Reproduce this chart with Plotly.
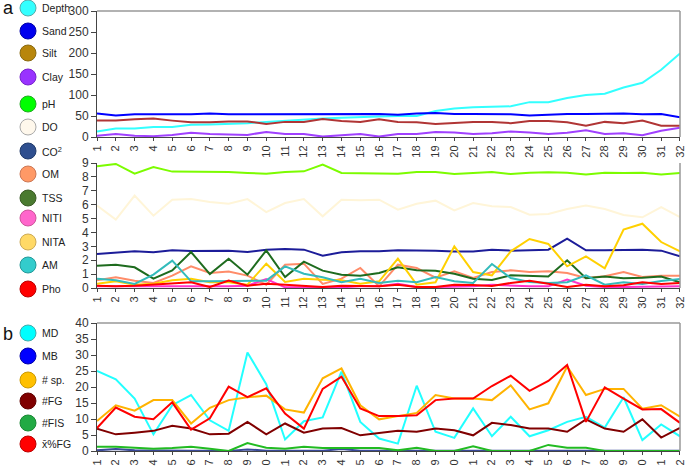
import plotly.graph_objects as go

sites = list(range(1, 33))
tick_labels = [str(i) for i in sites]

# Panel a (top): granulometry and depth
depth = [13, 20, 20, 24, 24, 29, 30, 31, 33, 36, 39, 41, 44, 46, 48, 49,
         50, 50, 62, 68, 71, 72, 73, 83, 83, 93, 100, 103, 118, 129, 160, 199]
sand = [56, 51, 54, 54, 53, 54, 56, 54, 54, 54, 54, 54, 55, 55, 54, 55,
        53, 56, 57, 55, 55, 54, 54, 51, 53, 55, 55, 55, 56, 54, 55, 47]
silt = [39, 39, 42, 44, 39, 35, 35, 37, 37, 31, 36, 36, 43, 38, 36, 42,
        36, 35, 31, 33, 36, 36, 33, 38, 38, 35, 27, 36, 33, 39, 27, 27]
clay = [3, 7, 3, 2, 5, 10, 7, 6, 5, 12, 7, 7, 1, 4, 7, 1,
        7, 7, 12, 11, 7, 9, 13, 11, 7, 10, 16, 7, 9, 4, 15, 22]

# Panel a (middle): water chemistry
ph = [8.76, 8.93, 8.23, 8.71, 8.38, 8.38, 8.40, 8.35, 8.28, 8.23, 8.35, 8.40, 8.88, 8.28, 8.26, 8.26,
      8.23, 8.35, 8.35, 8.21, 8.26, 8.35, 8.21, 8.30, 8.33, 8.30, 8.18, 8.30, 8.28, 8.30, 8.18, 8.28]
do = [5.93, 4.92, 6.65, 5.21, 6.36, 6.40, 6.19, 6.07, 6.40, 5.47, 6.12, 6.40, 5.16, 6.36, 6.31, 6.36,
      5.64, 6.07, 6.29, 5.59, 6.12, 5.88, 5.83, 5.28, 5.33, 5.69, 5.93, 5.69, 5.26, 5.09, 5.83, 5.11]
co2 = [2.45, 2.52, 2.64, 2.57, 2.71, 2.66, 2.69, 2.69, 2.59, 2.76, 2.81, 2.76, 2.33, 2.57, 2.64, 2.64,
       2.71, 2.71, 2.69, 2.62, 2.62, 2.76, 2.69, 2.71, 2.76, 3.55, 2.71, 2.71, 2.76, 2.76, 2.69, 2.28]
om = [0.55, 0.77, 0.53, 0.36, 0.89, 1.56, 1.08, 1.18, 0.89, 0.24, 1.68, 1.75, 0.29, 0.67, 1.44, 0.12,
      1.68, 1.44, 0.74, 1.20, 0.72, 1.15, 1.27, 1.15, 1.20, 1.08, 0.72, 0.84, 1.15, 0.79, 0.89, 0.89]
tss = [1.61, 1.68, 1.49, 0.67, 1.27, 2.59, 1.00, 2.11, 0.96, 2.71, 0.79, 1.90, 1.25, 0.96, 0.89, 1.08,
       1.49, 1.27, 1.25, 1.03, 0.67, 0.58, 0.91, 0.84, 0.82, 1.99, 0.70, 0.82, 0.70, 0.74, 0.82, 0.41]
niti = [0.12, 0.12, 0.12, 0.12, 0.12, 0.12, 0.07, 0.12, 0.17, 0.65, 0.05, 0.05, 0.05, 0.05, 0.12, 0.12,
        0.31, 0.07, 0.07, 0.12, 0.12, 0.24, 0.17, 0.12, 0.12, 0.60, 0.17, 0.07, 0.07, 0.07, 0.07, 0.12]
nita = [0.31, 0.48, 0.24, 0.31, 0.55, 0.67, 0.41, 0.41, 0.24, 1.75, 0.43, 0.67, 0.60, 0.55, 0.31, 0.48,
        2.11, 0.24, 0.41, 3.00, 1.15, 0.91, 2.64, 3.53, 3.17, 1.56, 2.28, 1.42, 4.20, 4.63, 3.31, 2.64]
am = [0.67, 0.55, 0.29, 0.96, 1.97, 0.48, 0.48, 0.48, 0.48, 0.53, 1.56, 1.03, 0.77, 0.41, 0.67, 0.36,
      0.53, 0.41, 0.79, 0.48, 0.36, 1.73, 0.72, 0.43, 0.36, 0.41, 0.91, 0.24, 0.41, 0.29, 0.50, 0.65]
pho = [0.17, 0.12, 0.17, 0.24, 0.36, 0.41, 0.07, 0.53, 0.17, 0.31, 0.24, 0.17, 0.07, 0.17, 0.12, 0.12,
       0.24, 0.07, 0.07, 0.24, 0.22, 0.14, 0.36, 0.53, 0.31, 0.07, 0.24, 0.12, 0.19, 0.41, 0.29, 0.36]

# Panel b: biological metrics
md = [25.0, 22.4, 16.4, 5.2, 14.3, 17.5, 9.6, 6.3, 30.8, 20.9, 3.6, 9.3, 10.5, 24.8, 9.1, 3.9,
      2.3, 20.4, 6.0, 4.1, 13.3, 4.6, 10.7, 4.6, 6.5, 9.1, 10.7, 7.3, 16.8, 3.4, 8.3, 4.6]
mb = [0.2, 0.6, 0.2, 0.1, 0.2, 0.1, 0.1, 0.0, 0.5, 0.1, 0.1, 0.1, 0.1, 0.6, 0.1, 0.1,
      0.1, 0.2, 0.1, 0.1, 0.1, 0.1, 0.3, 0.1, 0.2, 0.3, 0.3, 0.2, 0.1, 0.1, 0.1, 0.1]
n_sp = [9.4, 14.3, 12.6, 15.9, 15.9, 8.6, 13.5, 15.9, 16.8, 17.3, 13.0, 12.0, 22.7, 25.8, 14.3, 9.9,
        10.9, 11.9, 17.5, 16.4, 16.4, 15.9, 20.5, 13.0, 14.9, 26.4, 17.5, 19.4, 19.4, 13.2, 14.3, 10.7]
n_fg = [7.0, 5.2, 5.7, 6.3, 7.9, 7.0, 5.2, 5.4, 9.1, 5.2, 8.6, 5.7, 7.0, 7.2, 4.9, 5.7,
        6.3, 6.0, 7.0, 6.5, 4.9, 8.8, 8.1, 7.0, 7.0, 6.0, 9.9, 7.0, 6.0, 9.9, 4.2, 7.2]
n_fis = [1.3, 1.3, 1.0, 0.7, 0.9, 1.3, 0.7, 0.0, 2.5, 1.0, 0.7, 1.3, 0.9, 0.9, 0.9, 0.9,
         0.2, 1.0, 0.0, 0.0, 1.5, 0.0, 0.0, 0.0, 1.9, 1.0, 1.0, 0.0, 0.0, 0.0, 0.0, 0.0]
mean_pfg = [7.2, 13.6, 10.7, 9.9, 15.2, 6.7, 10.2, 20.1, 16.8, 19.6, 11.7, 7.0, 19.4, 23.2, 13.3, 10.9,
            10.9, 11.2, 15.9, 16.4, 16.4, 20.3, 23.5, 18.8, 21.9, 26.9, 9.1, 19.9, 16.4, 13.0, 13.1, 8.8]

W, H = 685, 466
ML, MR, MT, MB = 97, 5, 11, 15
PW, PH = W - ML - MR, H - MT - MB

def px_x(x):
    return (x - ML) / PW

def px_y(y):
    return (H - MB - y) / PH

fig = go.Figure()

series_top = [("Depth", depth, "#33FFFF"), ("Sand", sand, "#0000FF"),
              ("Silt", silt, "#B03535"), ("Clay", clay, "#A040FF")]
series_mid = [("pH", ph, "#7CFC00"), ("DO", do, "#FFF5D8"), ("CO2", co2, "#1C1C99"),
              ("OM", om, "#FF8C69"), ("TSS", tss, "#1E6B1E"), ("NITI", niti, "#FF33CC"),
              ("NITA", nita, "#FFD000"), ("AM", am, "#33BBBB"), ("Pho", pho, "#FF0000")]
series_bot = [("MD", md, "#22FFFF"), ("MB", mb, "#3A4A99"), ("# sp.", n_sp, "#FFB300"),
              ("#FG", n_fg, "#800000"), ("#FIS", n_fis, "#22BB22"), ("x%FG", mean_pfg, "#FF0000")]

for name, vals, col in series_top:
    fig.add_trace(go.Scatter(x=sites, y=vals, mode="lines", name=name,
                             line=dict(color=col, width=2), xaxis="x", yaxis="y"))
for name, vals, col in series_mid:
    fig.add_trace(go.Scatter(x=sites, y=vals, mode="lines", name=name,
                             line=dict(color=col, width=2), xaxis="x2", yaxis="y2"))
for name, vals, col in series_bot:
    fig.add_trace(go.Scatter(x=sites, y=vals, mode="lines", name=name,
                             line=dict(color=col, width=2), xaxis="x3", yaxis="y3"))

tickfont_x = dict(family="Liberation Sans, Arial", size=11, color="#333")
tickfont_y = dict(family="Liberation Sans, Arial", size=12, color="#333")

def xax(anchor):
    return dict(range=[0.999, 32.001], tickmode="array", tickvals=sites, ticktext=tick_labels,
                tickangle=-90, showline=True, linecolor="#444", linewidth=1,
                ticks="outside", ticklen=3, tickcolor="#444", showgrid=False,
                zeroline=False, tickfont=tickfont_x, anchor=anchor, automargin=False,
                ticklabeloverflow="allow")

def yax(domain, rng, dtick, anchor):
    return dict(domain=domain, range=rng, dtick=dtick, showline=True, linecolor="#444",
                linewidth=1, ticks="outside", ticklen=5, tickcolor="#444", showgrid=False,
                zeroline=False, tickfont=tickfont_y, anchor=anchor, automargin=False)

top_dom = [px_y(137), px_y(11)]
mid_dom = [px_y(288), px_y(163)]
bot_dom = [px_y(451), px_y(323)]

shapes = []
grey = "#999999"
# frames: top and bottom panels full, middle panel right side only
for dom, full in [(top_dom, True), (mid_dom, False), (bot_dom, True)]:
    shapes.append(dict(type="line", xref="paper", yref="paper", x0=1, x1=1,
                       y0=dom[0], y1=dom[1], line=dict(color=grey, width=1.5)))
    if full:
        shapes.append(dict(type="line", xref="paper", yref="paper", x0=0, x1=1,
                           y0=dom[1], y1=dom[1], line=dict(color=grey, width=1.5)))

annotations = []
legend_a = [("Depth", "#33FFFF", "#55AAAA", 8), ("Sand", "#0000EE", "#0000AA", 31),
            ("Silt", "#B8860B", "#8A6A10", 53), ("Clay", "#9933FF", "#7722CC", 77),
            ("pH", "#00FF00", "#22AA22", 104), ("DO", "#FFF8EC", "#AAAAAA", 127),
            ("CO<sup>2</sup>", "#2F4F8F", "#203A6A", 151), ("OM", "#FF9966", "#CC7755", 174),
            ("TSS", "#4A7A30", "#3A5A25", 198), ("NITI", "#FF66CC", "#CC5599", 218),
            ("NITA", "#FFD966", "#CCAA55", 242), ("AM", "#33CCCC", "#229999", 265),
            ("Pho", "#FF0000", "#BB0000", 289)]
legend_b = [("MD", "#00FFFF", "#44AAAA", 333), ("MB", "#0000FF", "#0000AA", 356),
            ("# sp.", "#FFC000", "#CC9900", 380), ("#FG", "#800000", "#600000", 401),
            ("#FIS", "#22AA44", "#188833", 423), ("x\u0304%FG", "#FF0000", "#BB0000", 444)]

for label, fill, edge, cy in legend_a + legend_b:
    r = 8
    shapes.append(dict(type="circle", xref="paper", yref="paper",
                       x0=px_x(28 - r), x1=px_x(28 + r), y0=px_y(cy + r), y1=px_y(cy - r),
                       fillcolor=fill, line=dict(color=edge, width=1)))
    annotations.append(dict(text=label, xref="paper", yref="paper", x=px_x(40), y=px_y(cy),
                            xanchor="left", yanchor="middle", showarrow=False,
                            font=dict(family="Liberation Sans, Arial", size=10.5, color="#222")))

for letter, cy in [("a", 8), ("b", 334)]:
    annotations.append(dict(text=letter, xref="paper", yref="paper", x=px_x(1), y=px_y(cy),
                            xanchor="left", yanchor="middle", showarrow=False,
                            font=dict(family="Liberation Sans, Arial", size=18, color="#111")))

fig.update_layout(
    width=W, height=H, margin=dict(l=ML, r=MR, t=MT, b=MB),
    paper_bgcolor="white", plot_bgcolor="white", showlegend=False,
    xaxis=xax("y"), yaxis=yax(top_dom, [0, 300], 50, "x"),
    xaxis2=xax("y2"), yaxis2=yax(mid_dom, [0, 9], 1, "x2"),
    xaxis3=xax("y3"), yaxis3=yax(bot_dom, [0, 40], 5, "x3"),
    shapes=shapes, annotations=annotations,
)

fig.write_html("out.html", config={"displayModeBar": False},
               post_script="document.body.style.margin='0';document.body.style.padding='0';")
